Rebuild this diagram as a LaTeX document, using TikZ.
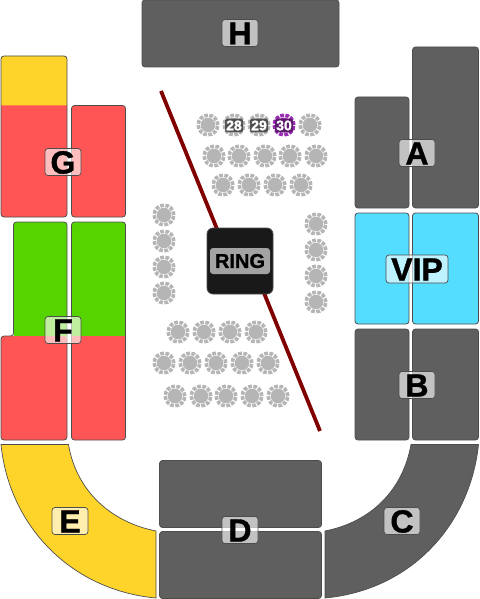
\documentclass[tikz,border=0pt]{standalone}
\usepackage{fontspec}
\setmainfont[BoldFeatures={FakeBold=1.2}]{Liberation Sans}
\definecolor{gr}{HTML}{5F5F5F}
\definecolor{rd}{HTML}{FF5555}
\definecolor{yl}{HTML}{FFD42A}
\definecolor{gn}{HTML}{55D400}
\definecolor{bl}{HTML}{55DDFF}
\definecolor{edge}{HTML}{4D4D4D}
\definecolor{tb}{HTML}{B5B5B5}
\definecolor{pu}{HTML}{9A2BB5}
\tikzset{
 sect/.style={draw=edge,line width=0.8pt,rounded corners=3pt},
 soft/.style={rounded corners=3pt},
 lab/.style={draw=edge,line width=0.7pt,fill=white,fill opacity=0.62,text opacity=1,rounded corners=3pt,inner sep=0pt,font=\bfseries\fontsize{32}{32}\selectfont,text depth=0pt,text height=23pt,minimum height=27pt,minimum width=36pt},
 tablebase/.style={circle,inner sep=0pt,minimum size=14.6pt},
 seatring/.style={draw=#1,line width=3.6pt,dash pattern=on 3.7pt off 1.43pt},
 num/.style={rounded corners=2pt,inner sep=0pt,minimum width=18pt,minimum height=13.5pt,text=white,fill=#1,font=\bfseries\fontsize{14}{14}\selectfont},
 wall/.style={draw=red!50!black,line width=3.8pt}
}
\newcommand{\seat}[3][tb]{\draw[seatring=#1] (#2,#3) circle[radius=9.8pt]; \node[tablebase,fill=#1] at (#2,#3) {};}
\begin{document}
\begin{tikzpicture}[x=1pt,y=-1pt]
\useasboundingbox (0,0) rectangle (479,599);
% H
\path[sect,fill=gr] (142,0) rectangle (339,67);
% G, left column: yellow over red with one outline
\path[soft,fill=yl] (1,106) -- (1,56) -- (67,56) -- (67,106);
\path[soft,fill=rd] (1,105.5) -- (1,217) -- (67,217) -- (67,105.5);
\path[sect] (1,56) rectangle (67,217);
\path[sect,fill=rd] (71.5,105.5) rectangle (125.5,217);
% F, green over red with one outline
\path[soft,fill=gn] (13.5,336.5) -- (13.5,222) -- (67,222) -- (67,336.5);
\path[soft,fill=gn] (71.5,336.5) -- (71.5,222) -- (125.5,222) -- (125.5,336.5);
\path[soft,fill=rd] (1,336) -- (1,440) -- (67,440) -- (67,336) -- cycle;
\path[soft,fill=rd] (71.5,336) -- (71.5,440) -- (125.5,440) -- (125.5,336);
\path[sect] (13.5,336) -- (13.5,222) -- (67,222) -- (67,440) -- (1,440) -- (1,336) -- cycle;
\path[sect] (71.5,222) rectangle (125.5,440);
% E
\path[draw=edge,line width=0.7pt,fill=yl] (1,444.5) -- (68.5,444.5) .. controls (76,490) and (110,522) .. (156,531) -- (156,598) .. controls (70,590) and (9,525) .. (1,444.5) -- cycle;
% C
\path[draw=edge,line width=0.7pt,fill=gr] (478.5,444.5) -- (411,444.5) .. controls (403,490) and (371,522) .. (325,531) -- (325,598) .. controls (411,590) and (470,525) .. (478.5,444.5) -- cycle;
% D
\path[sect,fill=gr] (159.5,460.5) rectangle (321.5,527.5);
\path[sect,fill=gr] (159.5,531.5) rectangle (321.5,598.5);
% A VIP B
\path[sect,fill=gr] (355,97) rectangle (409,208);
\path[sect,fill=gr] (412.5,47) rectangle (478.5,208);
\path[sect,fill=bl] (355,213) rectangle (409,324);
\path[sect,fill=bl] (412.5,213) rectangle (478.5,324);
\path[sect,fill=gr] (355,329) rectangle (409,440);
\path[sect,fill=gr] (412.5,329) rectangle (478.5,440);
% walls
\coordinate (w1) at (161,91); \coordinate (w2) at (217,229);
\coordinate (w3) at (264,293); \coordinate (w4) at (320,431);
\draw[wall] (w1) -- (w2);
\draw[wall] (w3) -- (w4);
% ring
\node[draw=edge,line width=0.8pt,fill=black!90,rounded corners=6pt,minimum size=66pt,inner sep=0pt] (ring) at (240,261) {};
\node[fill=white,fill opacity=0.6,text opacity=1,rounded corners=3pt,inner sep=0pt,minimum width=60pt,minimum height=26pt,font=\bfseries\fontsize{20}{20}\selectfont] (ringlabel) at (240,261) {RING};
% seats
\foreach \x/\y in {208/125,310/125,
 214/156,239/156,265/156,290/156,316/156,
 223/185,249/185,275/185,301/185,
 164/215,164/241,164/267,164/293,
 316/224,316/250,316/276,316/302,
 178/332,204/332,230/332,256/332,
 164/363,190/363,216/363,242/363,268/363,
 175/396,201/396,226/396,252/396,278/396,234/125,259/125}{\seat{\x}{\y}}
\seat[pu]{284}{125}
\node[num=black!68] (n28) at (234,125.5) {28};
\node[num=black!68] (n29) at (259,125.5) {29};
\node[num=pu!60!black] (n30) at (284,125.5) {30};
% labels
\node[lab] (A) at (417,153) {A};
\node[lab] (B) at (417,385) {B};
\node[lab] (C) at (402,521) {C};
\node[lab] (D) at (240,530) {D};
\node[lab] (E) at (70,521) {E};
\node[lab] (F) at (63,330) {F};
\node[lab] (G) at (63,162) {G};
\node[lab] (H) at (240,33) {H};
\node[lab,minimum width=62pt,minimum height=28pt] (VIP) at (417,269) {VIP};
\end{tikzpicture}
\end{document}
